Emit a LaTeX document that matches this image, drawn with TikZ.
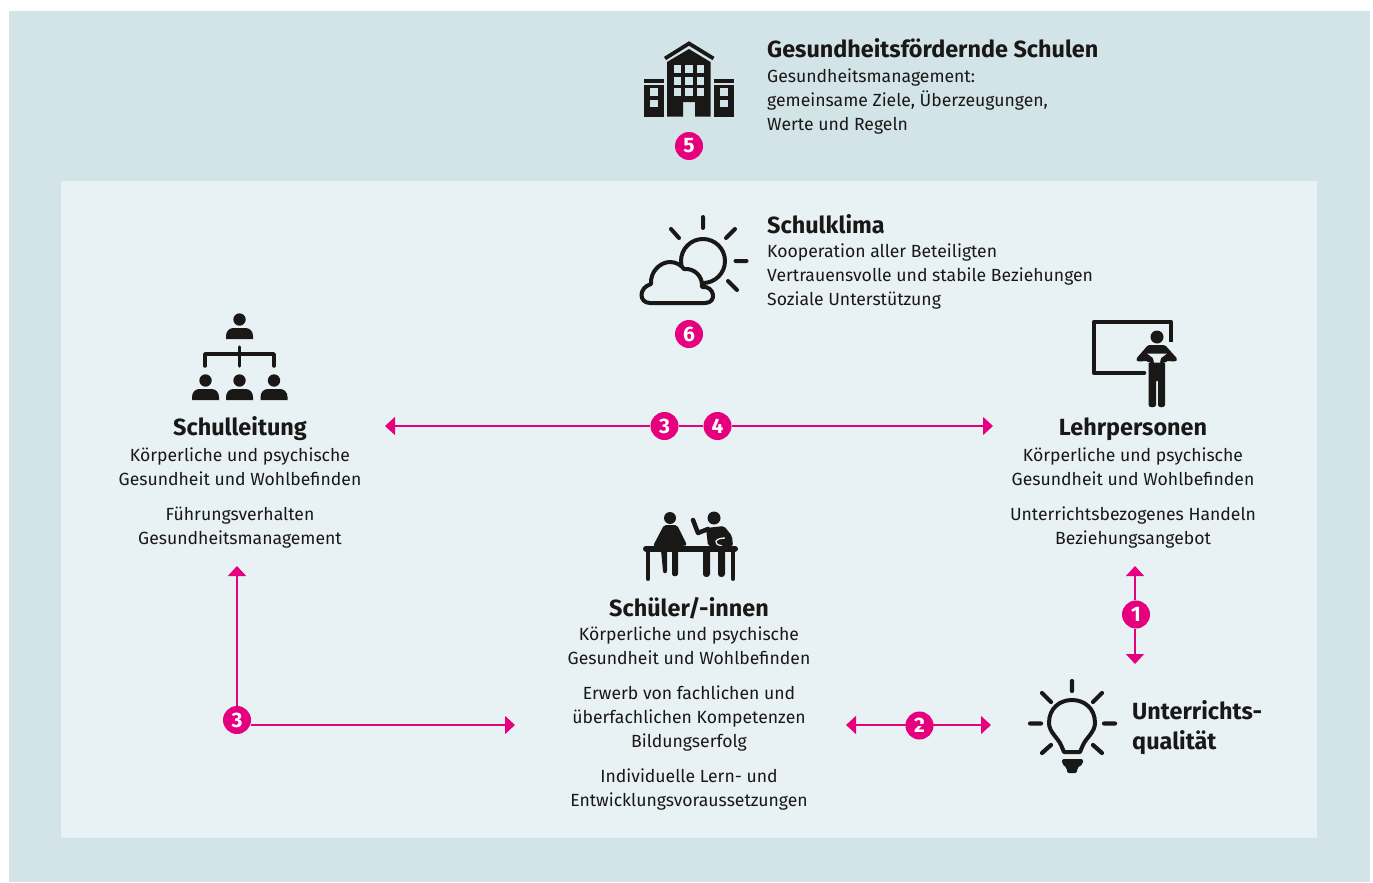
\documentclass[tikz,border=0pt]{standalone}
\usepackage{fontspec}
\setmainfont{Fira Sans}
\usetikzlibrary{arrows.meta,positioning}
\definecolor{outerbg}{HTML}{D2E4E8}
\definecolor{innerbg}{HTML}{E8F2F5}
\definecolor{accent}{HTML}{E6007E}
\definecolor{ink}{HTML}{1A1717}
\tikzset{
  badge/.style={circle, fill=accent, text=white, inner sep=0pt, minimum size=28pt, font=\fontsize{21}{21}\selectfont\bfseries},
  link/.style={draw=accent, line width=1.4pt},
  tip/.style={-{Triangle[length=10pt,width=18pt,fill=accent]}},
  tips/.style={{Triangle[length=10pt,width=18pt,fill=accent]}-{Triangle[length=10pt,width=18pt,fill=accent]}},
  txtc/.style={align=center, font=\fontsize{17.6}{24}\selectfont, text=ink, inner sep=0pt},
  txtl/.style={align=left, font=\fontsize{17.6}{24}\selectfont, text=ink, inner sep=0pt, anchor=north west},
  head/.style={font=\fontsize{23.4}{30}\selectfont\bfseries, text=ink, inner sep=0pt},
  icon/.style={ink, line width=4.5pt, line cap=round, line join=round},
}
\newcommand{\person}[2]{% head and shoulders, #2 is the top of the body
  \fill[ink] (#1,#2-8.5) circle (6.2);
  \fill[ink] (#1-13.5,#2+11) -- (#1-13.5,#2+8) .. controls (#1-13.5,#2+3) and (#1-10,#2) .. (#1-6,#2)
    -- (#1+6,#2) .. controls (#1+10,#2) and (#1+13.5,#2+3) .. (#1+13.5,#2+8) -- (#1+13.5,#2+11) -- cycle;
}
\begin{document}
\begin{tikzpicture}[x=1pt, y=-1pt]
\useasboundingbox (0,0) rectangle (1373,883);
\fill[outerbg] (9,11) rectangle (1370,882);
\fill[innerbg] (61,181) rectangle (1317,838);
% school building
\fill[ink] (667,116.5) -- (667,62) -- (689,49) -- (710.5,62) -- (710.5,116.5) -- (695,116.5) -- (695,102) -- (683,102) -- (683,116.5) -- cycle;
\draw[ink, line width=3.8pt] (665,58.5) -- (689,43.5) -- (713.5,58.5);
\fill[ink] (644,79) rectangle (664,82.5);
\fill[ink] (714,79) rectangle (734,82.5);
\fill[ink] (644,85) rectangle (663.5,116.5);
\fill[ink] (714,85) rectangle (733.5,116.5);
\foreach \c in {0,1,2} \foreach \r in {0,1,2}
  \fill[outerbg] (673.5+11.5*\c,65.5+11.3*\r) rectangle ++(7.7,7.7);
\foreach \r in {0,1} {
  \fill[outerbg] (650,88+11.5*\r) rectangle ++(7.7,7.7);
  \fill[outerbg] (720,88+11.5*\r) rectangle ++(7.7,7.7);
}
% weather
\draw[icon, line width=4pt] (703,261) circle (22);
\draw[icon, line width=4pt, fill=innerbg] (650,303) .. controls (639,303) and (638,288) .. (651,284)
  .. controls (650,272) and (660,262) .. (670,262) .. controls (676,262) and (681,265) .. (684,269)
  .. controls (694,268) and (703,276) .. (702,287) .. controls (714,285) and (718,303) .. (705,303) -- cycle;
\draw[icon, line width=4pt] (703,217) -- (703,228) (671,229) -- (679,238) (735,229) -- (726,238)
  (735.5,261) -- (746.5,261) (728,281) -- (737,290);
% hierarchy
\person{239.5}{328}
\person{205.5}{389}
\person{239.5}{389}
\person{274}{389}
\draw[icon, line width=3.5pt] (205,366) -- (205,354) -- (274,354) -- (274,366) (239.5,347) -- (239.5,366);
% teacher and board
\draw[ink, line width=4.5pt, line cap=round, line join=round] (1144,373) -- (1094,373) -- (1094,322) -- (1171,322) -- (1171,344);
\fill[innerbg] (1165,342) rectangle (1177,350);
\fill[ink] (1157,337) circle (6.5);
\fill[ink, rounded corners=1.5pt] (1148,345) -- (1165,345) -- (1177.5,359) -- (1176,361.5) -- (1166,361) -- (1165,363) -- (1149,363) -- (1148,361) -- (1137,361.5) -- (1136,359) -- cycle;
\fill[innerbg] (1147,353.5) -- (1167,353.5) -- (1161,358) -- (1160,362.5) -- (1154,362.5) -- (1153,358) -- cycle;
\fill[ink] (1148.5,363) -- (1165,363) -- (1165,405) .. controls (1165,408) and (1158,408) .. (1158,405) -- (1158,381) -- (1156,381) -- (1156,405) .. controls (1156,408) and (1148.5,408) .. (1148.5,405) -- cycle;
% pupils at table
\fill[ink] (670,518) circle (6);
\fill[ink] (714,518) circle (6.5);
\fill[ink, rounded corners=2pt] (653,546) -- (664,525) -- (677,525) -- (687,545) -- (684,546) -- cycle;
\fill[ink] (661,550) -- (667,550) -- (667,571) .. controls (667,574) and (663,574) .. (663,571) -- cycle;
\fill[ink] (672,550) -- (678,550) -- (678,574) .. controls (678,577) and (672,577) .. (672,574) -- cycle;
\draw[ink, line width=4.5pt, line cap=round, line join=round] (693,520) -- (698,533) -- (708,529);
\fill[ink, rounded corners=2pt] (706,528) -- (724,526) -- (732,536) -- (733,546) -- (708,546) -- cycle;
\draw[innerbg, line width=1.3pt] (722,546) .. controls (712,544) and (715,538) .. (725,538);
\fill[ink] (703,550) -- (710,550) -- (710,574) .. controls (710,578) and (703,578) .. (703,574) -- cycle;
\fill[ink] (718,550) -- (725,550) -- (725,574) .. controls (725,578) and (718,578) .. (718,574) -- cycle;
\draw[ink, line width=6pt, line cap=round] (646,548.5) -- (735,548.5);
\draw[ink, line width=3.8pt, line cap=round] (648,550) -- (648,579) (733,550) -- (733,579);
% bulb
\draw[icon, line width=4pt] (1064,752) -- (1061,745) .. controls (1058,738) and (1049,732) .. (1049,723)
  .. controls (1049,708) and (1060,700) .. (1072,700) .. controls (1084,700) and (1095,708) .. (1095,723)
  .. controls (1095,732) and (1086,738) .. (1083,745) -- (1080,752) -- cycle;
\fill[ink, rounded corners=2pt] (1062,759) -- (1083,759) -- (1083,764) -- (1077,768) -- (1077,773) -- (1067,773) -- (1067,768) -- (1062,764) -- cycle;
\draw[icon, line width=4.2pt] (1072,681) -- (1072,691) (1042,693) -- (1051,702) (1102,693) -- (1093,702)
  (1030,723.5) -- (1041,723.5) (1104,723.5) -- (1115,723.5) (1042,753) -- (1051,745) (1102,753) -- (1093,745);
% texts
\node[head, anchor=base west] (gs) at (767,58) {Gesundheitsfördernde Schulen};
\node[txtl] (gstext) at (767,69) {Gesundheitsmanagement:\\gemeinsame Ziele, Überzeugungen,\\Werte und Regeln};
\node[head, anchor=base west] (klima) at (767,233) {Schulklima};
\node[txtl] (klimatext) at (767,244) {Kooperation aller Beteiligten\\Vertrauensvolle und stabile Beziehungen\\Soziale Unterstützung};
\node[head, anchor=base] (sl) at (240,435) {Schulleitung};
\node[txtc, anchor=north] (sltext) at (240,448) {Körperliche und psychische\\Gesundheit und Wohlbefinden};
\node[txtc, anchor=north] (slrole) at (240,507) {Führungsverhalten\\Gesundheitsmanagement};
\node[head, anchor=base] (lp) at (1133,435) {Lehrpersonen};
\node[txtc, anchor=north] (lptext) at (1133,448) {Körperliche und psychische\\Gesundheit und Wohlbefinden};
\node[txtc, anchor=north] (lprole) at (1133,507) {Unterrichtsbezogenes Handeln\\Beziehungsangebot};
\node[head, anchor=base] (su) at (689,616) {Schüler/-innen};
\node[txtc, anchor=north] (sutext) at (689,627) {Körperliche und psychische\\Gesundheit und Wohlbefinden};
\node[txtc, anchor=north] (suerw) at (689,686) {Erwerb von fachlichen und\\überfachlichen Kompetenzen\\Bildungserfolg};
\node[txtc, anchor=north] (suind) at (689,769) {Individuelle Lern- und\\Entwicklungsvoraussetzungen};
\node[head, anchor=base west, align=left] (uq1) at (1132,719) {Unterrichts-};
\node[head, anchor=base west, align=left] (uq2) at (1132,749) {qualität};
% badges
\node[badge] (b5) at (689,146) {5};
\node[badge] (b6) at (689,334) {6};
\node[badge] (b3a) at (664.5,426) {3};
\node[badge] (b4) at (717.5,426) {4};
\node[badge] (b1) at (1136,614.5) {1};
\node[badge] (b2) at (919.5,725.5) {2};
\node[badge] (b3b) at (237,720) {3};
% connectors
\coordinate (slend) at (385,426);
\coordinate (lpend) at (993,426);
\coordinate (slup) at (237,566);
\coordinate (suleft) at (515,725);
\coordinate (suright) at (846,725);
\coordinate (uqleft) at (991,725);
\coordinate (lpdown) at (1135,566);
\coordinate (uqup) at (1135,664);
\draw[link, tip] (b3a) -- (slend);
\draw[link] (b3a) -- (b4);
\draw[link, tip] (b4) -- (lpend);
\draw[link, tip] (b3b) -- (slup);
\draw[link, tip] (b3b.east |- suleft) -- (suleft);
\draw[link, tips] (suright) -- (uqleft);
\draw[link, tip] (b1.north -| lpdown) -- (lpdown);
\draw[link, tip] (b1.south -| uqup) -- (uqup);
\end{tikzpicture}
\end{document}
